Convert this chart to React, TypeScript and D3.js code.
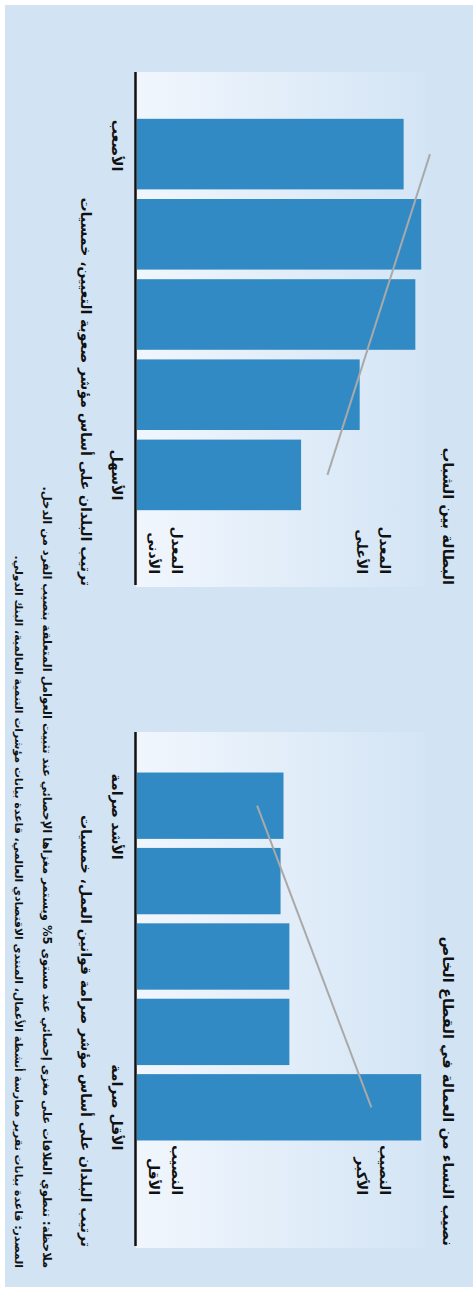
import React from "react";
import * as d3 from "d3";

// ---- data ----
const quintiles = ["Q1", "Q2", "Q3", "Q4", "Q5"];
const youthUnemployment = [91, 97, 95, 76, 56];
const youthTrend = [100, 65];
const womenShare = [50, 49, 52, 52, 97];
const womenTrend = [41, 80];

const titleYouth = "البطالة بين الشباب";
const titleWomen = "نصيب النساء من العمالة في القطاع الخاص";
const subYouth = "ترتيب البلدان على أساس مؤشر صعوبة التعيين، خمسيات";
const subWomen = "ترتيب البلدان على أساس مؤشر صرامة قوانين العمل، خمسيات";
const catYouth = ["الأصعب", "الأسهل"];
const catWomen = ["الأشد صرامة", "الأقل صرامة"];
const valYouth = [["المعدل", "الأعلى"], ["المعدل", "الأدنى"]];
const valWomen = [["النصيب", "الأكبر"], ["النصيب", "الأقل"]];
const noteText = "ملاحظة: تنطوي العلاقات على مغزى إحصائي عند مستوى 5% ويستمر مغزاها الإحصائي عند تثبيت العوامل المتعلقة بنصيب الفرد من الدخل.";
const sourceText = "المصدر: قاعدة بيانات تقرير ممارسة أنشطة الأعمال، المنتدى الاقتصادي العالمي، قاعدة بيانات مؤشرات التنمية العالمية، البنك الدولي.";

const W = 473;
const H = 1301;
const FONT = "'DejaVu Sans', sans-serif";
const BAR = "#318ac3";

const y = d3.scaleLinear().domain([0, 100]).range([336, 43]);

function Panel({ id, x0, x1, band, values, trend, title, sub, cats, vals, valRight }) {
  const x = d3.scaleBand().domain(quintiles).range(band).paddingInner(0.12).paddingOuter(0.06);
  const first = quintiles[0];
  const last = quintiles[quintiles.length - 1];
  const bw = x.bandwidth();
  const txt = { fontFamily: FONT, direction: "rtl" as const, fill: "#111", fontWeight: "bold" as const };
  return (
    <g>
      <defs>
        <linearGradient id={id} x1="0" y1="1" x2="0" y2="0">
          <stop offset="0" stopColor="#f1f6fd" />
          <stop offset="1" stopColor="#d4e5f5" />
        </linearGradient>
      </defs>
      <rect x={x0} y={48} width={x1 - x0} height={337 - 48} fill={`url(#${id})`} />
      {values.map((v, i) => (
        <rect key={i} x={x(quintiles[i])} width={bw} y={y(v)} height={y(0) - y(v)} fill={BAR} />
      ))}
      <line
        x1={x(first) + bw / 2}
        x2={x(last) + bw / 2}
        y1={y(trend[0])}
        y2={y(trend[1])}
        stroke="#a9a9a9"
        strokeWidth={2}
      />
      <line x1={x0} x2={x1 - 2} y1={337.5} y2={337.5} stroke="#111" strokeWidth={2.5} />
      <text x={x1 - 2} y={30} textAnchor="start" style={{ ...txt, fontSize: 14.7 }}>{title}</text>
      <text x={x1 - 1} y={392} textAnchor="start" style={{ ...txt, fontSize: 14 }}>{sub}</text>
      <text x={x(first) + 1} y={361} textAnchor="end" style={{ ...txt, fontSize: 14 }}>{cats[0]}</text>
      <text x={x(last) + bw / 2} y={361} textAnchor="middle" style={{ ...txt, fontSize: 14 }}>{cats[1]}</text>
      {vals[0].map((s, i) => (
        <text key={"h" + i} x={valRight} y={93 + i * 23} textAnchor="start" style={{ ...txt, fontSize: 14 }}>{s}</text>
      ))}
      {vals[1].map((s, i) => (
        <text key={"l" + i} x={valRight} y={301 + i * 23} textAnchor="start" style={{ ...txt, fontSize: 14 }}>{s}</text>
      ))}
    </g>
  );
}

export default function App() {
  const noteStyle = { fontFamily: FONT, direction: "rtl" as const, fill: "#111", fontWeight: "bold" as const };
  return (
    <svg width={W} height={H} style={{ position: "absolute", left: 0, top: 0 }}>
      <rect x={0} y={0} width={W} height={H} fill="#fff" />
      <g transform={`translate(${W},0) rotate(90)`}>
        <rect x={5} y={0} width={1282} height={468} fill="#d2e4f4" />
        <Panel id="g1" x0={72} x1={587} band={[114, 515]} values={youthUnemployment} trend={youthTrend}
          title={titleYouth} sub={subYouth} cats={catYouth} vals={valYouth} valRight={574} />
        <Panel id="g2" x0={732} x1={1248} band={[768, 1145]} values={womenShare} trend={womenTrend}
          title={titleWomen} sub={subWomen} cats={catWomen} vals={valWomen} valRight={1195} />
        <text x={1268} y={430} textAnchor="start" style={{ ...noteStyle, fontSize: 11.5 }}>{noteText}</text>
        <text x={1268} y={458} textAnchor="start" style={{ ...noteStyle, fontSize: 10.9 }}>{sourceText}</text>
      </g>
    </svg>
  );
}
